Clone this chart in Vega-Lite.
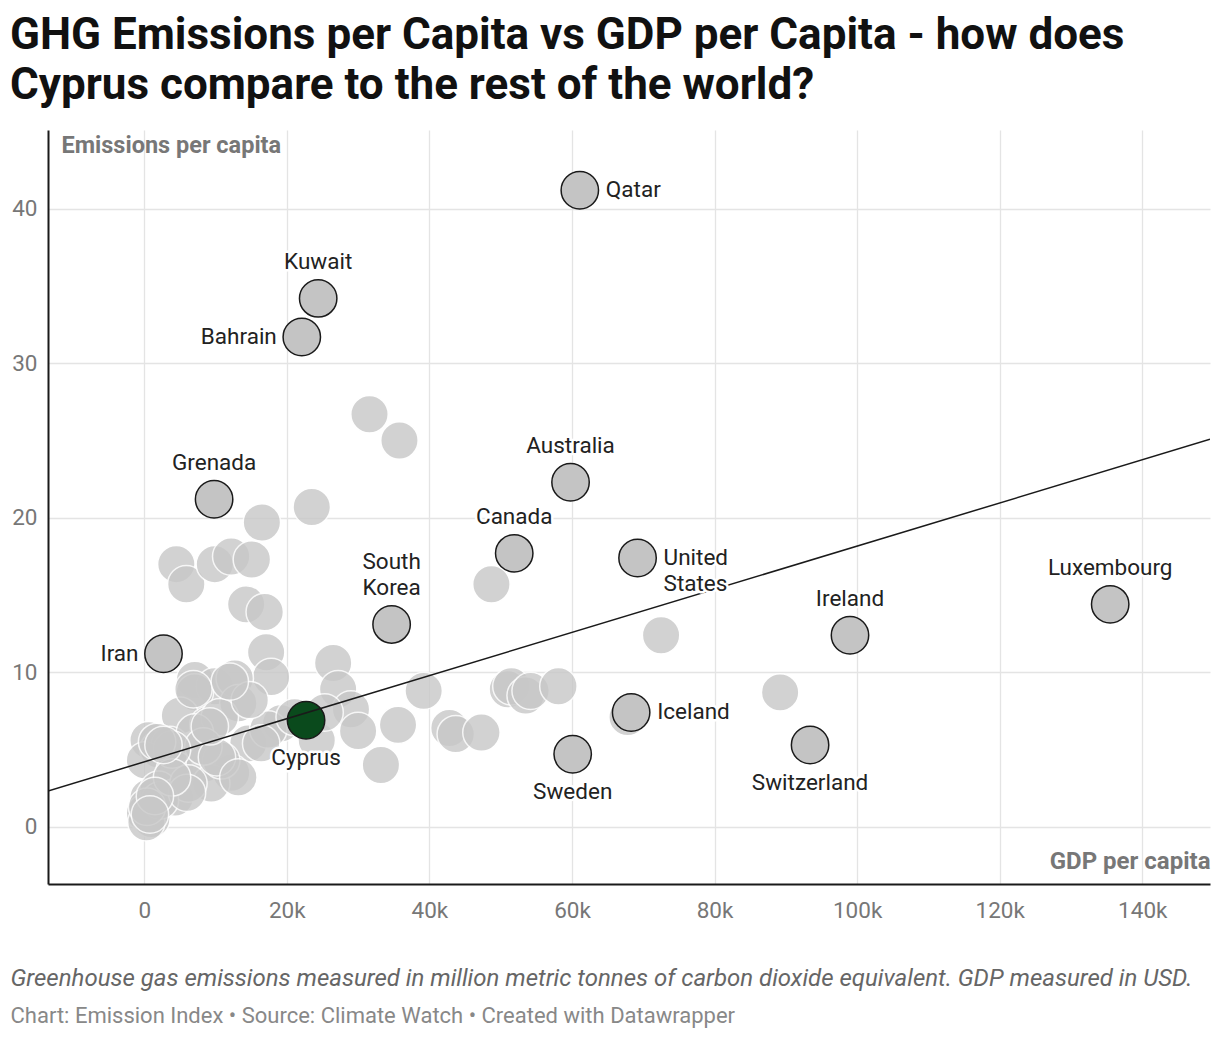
{
  "$schema": "https://vega.github.io/schema/vega-lite/v6.json",
  "width": 1162,
  "height": 754,
  "autosize": "none",
  "padding": {"left": 48, "top": 130, "right": 10, "bottom": 154},
  "background": "white",
  "config": {"font": "Roboto", "view": {"stroke": null}},
  "title": {
    "text": ["GHG Emissions per Capita vs GDP per Capita - how does", "Cyprus compare to the rest of the world?"],
    "anchor": "start",
    "frame": "group",
    "dx": -38,
    "fontSize": 44,
    "fontWeight": "bold",
    "color": "#111111",
    "lineHeight": 50,
    "offset": 22
  },
  "datasets": {
    "others": [
      {"gdp": 31600, "em": 26.7}, {"gdp": 35800, "em": 25.0}, {"gdp": 23500, "em": 20.7},
      {"gdp": 16500, "em": 19.7}, {"gdp": 4500, "em": 17.0}, {"gdp": 5900, "em": 15.7},
      {"gdp": 9900, "em": 17.0}, {"gdp": 12200, "em": 17.5}, {"gdp": 15100, "em": 17.3},
      {"gdp": 14300, "em": 14.4}, {"gdp": 16900, "em": 13.9}, {"gdp": 17100, "em": 11.3},
      {"gdp": 17800, "em": 9.7}, {"gdp": 48700, "em": 15.7}, {"gdp": 72500, "em": 12.4},
      {"gdp": 89200, "em": 8.7}, {"gdp": 26500, "em": 10.6}, {"gdp": 27200, "em": 8.9},
      {"gdp": 29000, "em": 7.6}, {"gdp": 30000, "em": 6.2}, {"gdp": 33200, "em": 4.0},
      {"gdp": 35600, "em": 6.6}, {"gdp": 39200, "em": 8.8}, {"gdp": 42800, "em": 6.4},
      {"gdp": 43700, "em": 6.0}, {"gdp": 47300, "em": 6.1}, {"gdp": 51000, "em": 8.9},
      {"gdp": 51500, "em": 9.1}, {"gdp": 53500, "em": 8.5}, {"gdp": 54200, "em": 8.8},
      {"gdp": 58100, "em": 9.1}, {"gdp": 67800, "em": 7.1}, {"gdp": 7100, "em": 9.5},
      {"gdp": 9900, "em": 9.1}, {"gdp": 12700, "em": 9.6}, {"gdp": 7100, "em": 8.7},
      {"gdp": 13200, "em": 8.0}, {"gdp": 5000, "em": 7.2}, {"gdp": 9000, "em": 6.6},
      {"gdp": 10600, "em": 7.1}, {"gdp": 600, "em": 5.6}, {"gdp": 2000, "em": 5.0},
      {"gdp": 3600, "em": 5.3}, {"gdp": 7100, "em": 6.1}, {"gdp": 14600, "em": 5.4},
      {"gdp": 100, "em": 4.3}, {"gdp": 4300, "em": 3.7}, {"gdp": 8500, "em": 4.1},
      {"gdp": 12200, "em": 3.5}, {"gdp": 9400, "em": 2.8}, {"gdp": 600, "em": 1.9},
      {"gdp": 2000, "em": 2.4}, {"gdp": 100, "em": 0.9}, {"gdp": 1000, "em": 0.5},
      {"gdp": 300, "em": 0.3}, {"gdp": 4300, "em": 1.9}, {"gdp": 6200, "em": 2.8},
      {"gdp": 10800, "em": 4.3}, {"gdp": 19200, "em": 6.7}, {"gdp": 17400, "em": 6.3},
      {"gdp": 21100, "em": 7.1}, {"gdp": 16400, "em": 5.4}, {"gdp": 24200, "em": 5.6},
      {"gdp": 14800, "em": 8.2}, {"gdp": 2200, "em": 1.7}, {"gdp": 6000, "em": 2.2},
      {"gdp": 8300, "em": 5.2}, {"gdp": 10200, "em": 4.5}, {"gdp": 13200, "em": 3.2},
      {"gdp": 3900, "em": 5.0}, {"gdp": 1800, "em": 5.5}, {"gdp": 400, "em": 1.3},
      {"gdp": 9200, "em": 6.5}, {"gdp": 6900, "em": 8.9}, {"gdp": 12000, "em": 9.4},
      {"gdp": 25300, "em": 7.4}, {"gdp": 3900, "em": 3.2}, {"gdp": 2700, "em": 5.3},
      {"gdp": 1500, "em": 2.0}, {"gdp": 800, "em": 0.8}
    ],
    "named": [
      {"country": "Qatar", "gdp": 61100, "em": 41.2},
      {"country": "Kuwait", "gdp": 24400, "em": 34.2},
      {"country": "Bahrain", "gdp": 22100, "em": 31.7},
      {"country": "Grenada", "gdp": 9800, "em": 21.2},
      {"country": "Australia", "gdp": 59800, "em": 22.3},
      {"country": "Canada", "gdp": 51900, "em": 17.7},
      {"country": "United States", "gdp": 69200, "em": 17.4},
      {"country": "South Korea", "gdp": 34700, "em": 13.1},
      {"country": "Iran", "gdp": 2700, "em": 11.2},
      {"country": "Luxembourg", "gdp": 135500, "em": 14.4},
      {"country": "Ireland", "gdp": 99000, "em": 12.4},
      {"country": "Iceland", "gdp": 68300, "em": 7.4},
      {"country": "Sweden", "gdp": 60100, "em": 4.7},
      {"country": "Switzerland", "gdp": 93400, "em": 5.3},
      {"country": "Cyprus", "gdp": 22700, "em": 6.9}
    ],
    "trend": [{"gdp": -13500, "em": 2.32, "gdp2": 149500, "em2": 25.08}]
  },
  "layer": [
    {
      "data": {"name": "others"},
      "mark": {"type": "circle", "size": 1400, "color": "#c8c8c8", "opacity": 0.8, "stroke": "white", "strokeWidth": 1.5},
      "encoding": {
        "x": {
          "field": "gdp", "type": "quantitative",
          "scale": {"domain": [-13500, 149500], "nice": false, "zero": false},
          "axis": {
            "orient": "bottom",
            "values": [0, 20000, 40000, 60000, 80000, 100000, 120000, 140000],
            "labelExpr": "datum.value == 0 ? '0' : (datum.value / 1000) + 'k'",
            "grid": true, "gridColor": "#e4e4e4", "gridWidth": 1.3,
            "ticks": false,
            "domainColor": "#1a1a1a", "domainWidth": 2,
            "labelFontSize": 22.5, "labelColor": "#777777", "labelPadding": 15,
            "title": "GDP per capita",
            "titleFontSize": 24, "titleFontWeight": "bold", "titleColor": "#777777",
            "titleAlign": "right", "titleX": 1162, "titleY": -16, "titleBaseline": "alphabetic"
          }
        },
        "y": {
          "field": "em", "type": "quantitative",
          "scale": {"domain": [-3.7, 45.1], "nice": false, "zero": false},
          "axis": {
            "values": [0, 10, 20, 30, 40],
            "grid": true, "gridColor": "#e4e4e4", "gridWidth": 1.3,
            "ticks": false,
            "domainColor": "#1a1a1a", "domainWidth": 2,
            "labelFontSize": 22.5, "labelColor": "#777777", "labelPadding": 11,
            "title": "Emissions per capita",
            "titleAngle": 0, "titleAlign": "left", "titleBaseline": "alphabetic",
            "titleX": 13, "titleY": 22,
            "titleFontSize": 23.5, "titleFontWeight": "bold", "titleColor": "#777777"
          }
        }
      }
    },
    {
      "data": {"name": "named"},
      "transform": [{"filter": "datum.country != 'Cyprus'"}],
      "mark": {"type": "circle", "size": 1400, "fill": "#c4c4c4", "opacity": 1, "stroke": "#1a1a1a", "strokeWidth": 1.5},
      "encoding": {
        "x": {
          "field": "gdp", "type": "quantitative",
          "axis": {
            "orient": "bottom", "labels": false, "ticks": false, "domain": false, "grid": false,
            "title": "Greenhouse gas emissions measured in million metric tonnes of carbon dioxide equivalent. GDP measured in USD.",
            "titleFontSize": 24, "titleFontStyle": "italic", "titleFontWeight": "normal", "titleColor": "#666666",
            "titleAlign": "left", "titleX": -38, "titleY": 101, "titleBaseline": "alphabetic"
          }
        },
        "y": {"field": "em", "type": "quantitative", "axis": null}
      }
    },
    {
      "data": {"name": "named"},
      "transform": [{"filter": "datum.country == 'Cyprus'"}],
      "mark": {"type": "circle", "size": 1400, "fill": "#0a4a1c", "opacity": 1, "stroke": "#1a1a1a", "strokeWidth": 1.5},
      "encoding": {
        "x": {"field": "gdp", "type": "quantitative", "axis": null},
        "y": {"field": "em", "type": "quantitative", "axis": null}
      }
    },
    {
      "data": {"name": "trend"},
      "mark": {"type": "rule", "color": "#1a1a1a", "strokeWidth": 1.5, "clip": true},
      "encoding": {
        "x": {
          "field": "gdp", "type": "quantitative",
          "axis": {
            "orient": "bottom", "labels": false, "ticks": false, "domain": false, "grid": false,
            "title": "Chart: Emission Index • Source: Climate Watch • Created with Datawrapper",
            "titleFontSize": 22, "titleFontWeight": "normal", "titleColor": "#888888",
            "titleAlign": "left", "titleX": -38, "titleY": 138, "titleBaseline": "alphabetic"
          }
        },
        "y": {"field": "em", "type": "quantitative", "axis": null},
        "x2": {"field": "gdp2"},
        "y2": {"field": "em2"}
      }
    },
    {
      "data": {"name": "named"},
      "transform": [{"filter": {"field": "country", "oneOf": ["Kuwait", "Grenada", "Australia", "Canada", "Luxembourg", "Ireland"]}}],
      "mark": {"type": "text", "align": "center", "baseline": "bottom", "dy": -24, "fontSize": 22.5, "fill": "white", "stroke": "white", "strokeWidth": 5, "strokeJoin": "round"},
      "encoding": {
        "x": {"field": "gdp", "type": "quantitative", "axis": null},
        "y": {"field": "em", "type": "quantitative", "axis": null},
        "text": {"field": "country"}
      }
    },
    {
      "data": {"name": "named"},
      "transform": [{"filter": {"field": "country", "oneOf": ["Kuwait", "Grenada", "Australia", "Canada", "Luxembourg", "Ireland"]}}],
      "mark": {"type": "text", "align": "center", "baseline": "bottom", "dy": -24, "fontSize": 22.5, "color": "#222222"},
      "encoding": {
        "x": {"field": "gdp", "type": "quantitative", "axis": null},
        "y": {"field": "em", "type": "quantitative", "axis": null},
        "text": {"field": "country"}
      }
    },
    {
      "data": {"name": "named"},
      "transform": [{"filter": "datum.country == 'South Korea'"}],
      "mark": {"type": "text", "align": "center", "baseline": "bottom", "dy": -50, "fontSize": 22.5, "lineBreak": " ", "lineHeight": 26, "fill": "white", "stroke": "white", "strokeWidth": 5, "strokeJoin": "round"},
      "encoding": {
        "x": {"field": "gdp", "type": "quantitative", "axis": null},
        "y": {"field": "em", "type": "quantitative", "axis": null},
        "text": {"field": "country"}
      }
    },
    {
      "data": {"name": "named"},
      "transform": [{"filter": "datum.country == 'South Korea'"}],
      "mark": {"type": "text", "align": "center", "baseline": "bottom", "dy": -50, "fontSize": 22.5, "lineBreak": " ", "lineHeight": 26, "color": "#222222"},
      "encoding": {
        "x": {"field": "gdp", "type": "quantitative", "axis": null},
        "y": {"field": "em", "type": "quantitative", "axis": null},
        "text": {"field": "country"}
      }
    },
    {
      "data": {"name": "named"},
      "transform": [{"filter": {"field": "country", "oneOf": ["Qatar", "United States", "Iceland"]}}],
      "mark": {"type": "text", "align": "left", "baseline": "middle", "dx": 26, "fontSize": 22.5, "lineBreak": " ", "lineHeight": 26, "fill": "white", "stroke": "white", "strokeWidth": 5, "strokeJoin": "round"},
      "encoding": {
        "x": {"field": "gdp", "type": "quantitative", "axis": null},
        "y": {"field": "em", "type": "quantitative", "axis": null},
        "text": {"field": "country"}
      }
    },
    {
      "data": {"name": "named"},
      "transform": [{"filter": {"field": "country", "oneOf": ["Qatar", "United States", "Iceland"]}}],
      "mark": {"type": "text", "align": "left", "baseline": "middle", "dx": 26, "fontSize": 22.5, "lineBreak": " ", "lineHeight": 26, "color": "#222222"},
      "encoding": {
        "x": {"field": "gdp", "type": "quantitative", "axis": null},
        "y": {"field": "em", "type": "quantitative", "axis": null},
        "text": {"field": "country"}
      }
    },
    {
      "data": {"name": "named"},
      "transform": [{"filter": {"field": "country", "oneOf": ["Bahrain", "Iran"]}}],
      "mark": {"type": "text", "align": "right", "baseline": "middle", "dx": -25, "fontSize": 22.5, "fill": "white", "stroke": "white", "strokeWidth": 5, "strokeJoin": "round"},
      "encoding": {
        "x": {"field": "gdp", "type": "quantitative", "axis": null},
        "y": {"field": "em", "type": "quantitative", "axis": null},
        "text": {"field": "country"}
      }
    },
    {
      "data": {"name": "named"},
      "transform": [{"filter": {"field": "country", "oneOf": ["Bahrain", "Iran"]}}],
      "mark": {"type": "text", "align": "right", "baseline": "middle", "dx": -25, "fontSize": 22.5, "color": "#222222"},
      "encoding": {
        "x": {"field": "gdp", "type": "quantitative", "axis": null},
        "y": {"field": "em", "type": "quantitative", "axis": null},
        "text": {"field": "country"}
      }
    },
    {
      "data": {"name": "named"},
      "transform": [{"filter": {"field": "country", "oneOf": ["Sweden", "Switzerland", "Cyprus"]}}],
      "mark": {"type": "text", "align": "center", "baseline": "top", "dy": 27, "fontSize": 22.5, "fill": "white", "stroke": "white", "strokeWidth": 5, "strokeJoin": "round"},
      "encoding": {
        "x": {"field": "gdp", "type": "quantitative", "axis": null},
        "y": {"field": "em", "type": "quantitative", "axis": null},
        "text": {"field": "country"}
      }
    },
    {
      "data": {"name": "named"},
      "transform": [{"filter": {"field": "country", "oneOf": ["Sweden", "Switzerland", "Cyprus"]}}],
      "mark": {"type": "text", "align": "center", "baseline": "top", "dy": 27, "fontSize": 22.5, "color": "#222222"},
      "encoding": {
        "x": {"field": "gdp", "type": "quantitative", "axis": null},
        "y": {"field": "em", "type": "quantitative", "axis": null},
        "text": {"field": "country"}
      }
    }
  ],
  "resolve": {"axis": {"x": "independent", "y": "independent"}}
}
